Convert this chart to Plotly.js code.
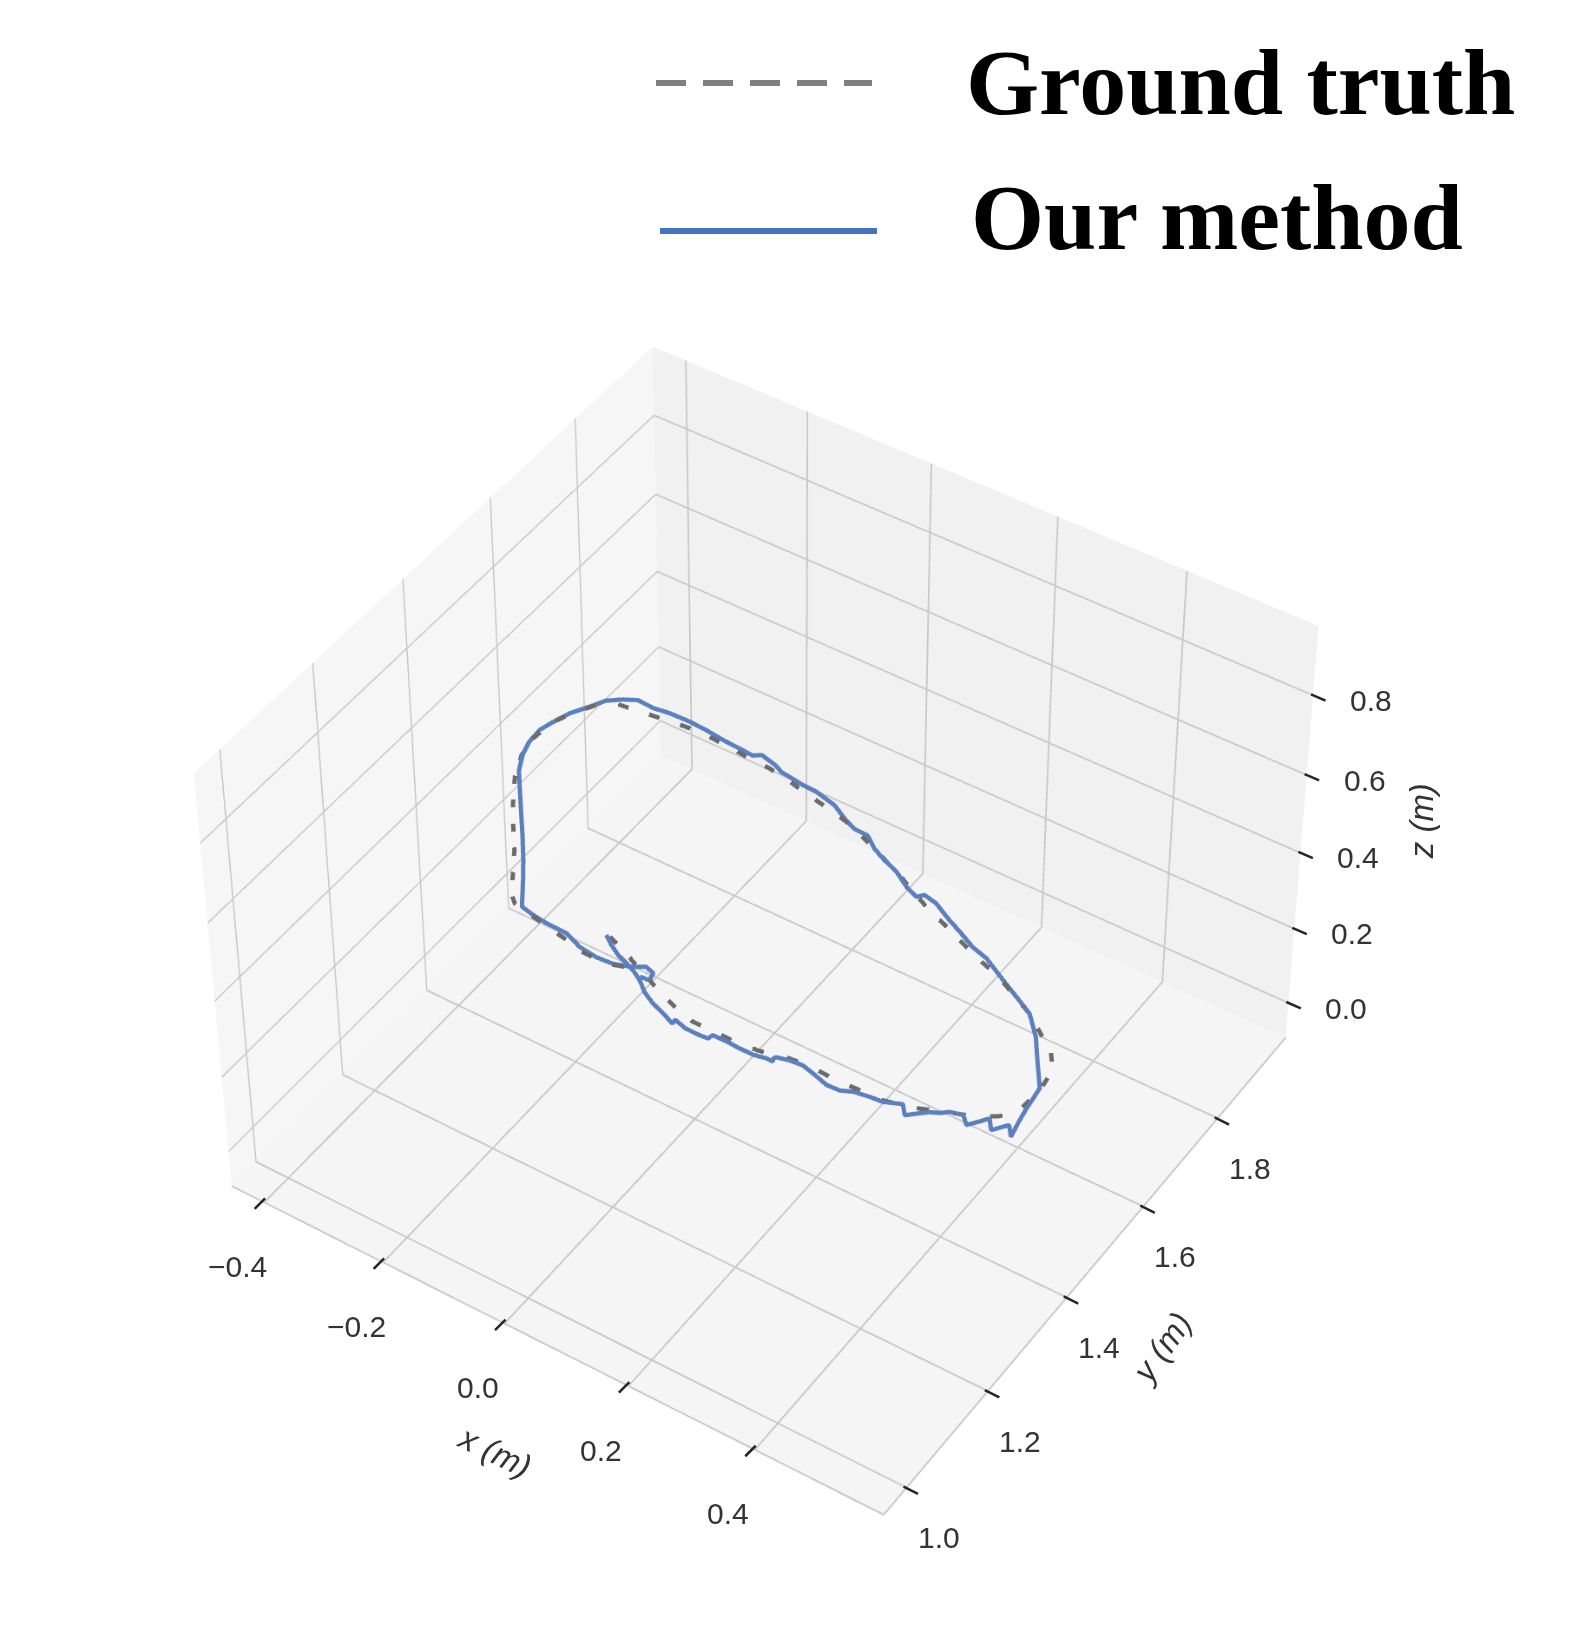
<!DOCTYPE html><html><head><meta charset="utf-8"><script src="https://cdn.plot.ly/plotly-3.0.1.min.js"></script></head><body style="margin:0;background:#fff">
<div style="position:fixed;left:0;top:0;width:1579px;height:1632px;overflow:hidden"><div id="g" style="position:absolute;left:-1711px;top:-1684px"></div></div>
<script>
const xRange=[-0.455,0.60], yRange=[0.945,1.988], zRange=[-0.095,0.97];
const xTicks=[-0.4,-0.2,0,0.2,0.4], xLabels=['−0.4','−0.2','0.0','0.2','0.4'];
const yTicks=[1,1.2,1.4,1.6,1.8], yLabels=['1.0','1.2','1.4','1.6','1.8'];
const zTicks=[0,0.2,0.4,0.6,0.8], zLabels=['0.0','0.2','0.4','0.6','0.8'];
const methodX=[-0.142,-0.125,-0.107,-0.088,-0.070,-0.055,-0.037,-0.015,0.007,0.028,0.027,0.048,0.070,0.083,0.085,0.107,0.128,0.150,0.168,0.179,0.176,0.178,0.196,0.216,0.235,0.262,0.282,0.298,0.321,0.341,0.365,0.378,0.389,0.402,0.414,0.424,0.442,0.455,0.466,0.474,0.487,0.502,0.515,0.510,0.505,0.500,0.474,0.446,0.416,0.391,0.365,0.340,0.312,0.285,0.254,0.227,0.198,0.176,0.169,0.147,0.119,0.093,0.069,0.047,0.025,0.002,-0.024,-0.060,-0.083,-0.102,-0.123,-0.137,-0.165,-0.175,-0.198,-0.228,-0.259,-0.288,-0.321,-0.347,-0.374,-0.393,-0.411,-0.423,-0.439,-0.448,-0.454,-0.452,-0.444,-0.430,-0.406,-0.377,-0.348,-0.320,-0.298,-0.269,-0.247,-0.223,-0.189,-0.159,-0.129,-0.103,-0.081,-0.062,-0.047,-0.044,-0.059];
const methodY=[1.401,1.389,1.378,1.371,1.363,1.354,1.339,1.327,1.319,1.310,1.318,1.312,1.312,1.313,1.322,1.322,1.321,1.321,1.325,1.325,1.330,1.334,1.339,1.341,1.336,1.328,1.329,1.337,1.341,1.343,1.354,1.338,1.349,1.361,1.367,1.376,1.381,1.368,1.383,1.395,1.378,1.399,1.382,1.407,1.437,1.479,1.516,1.557,1.590,1.604,1.618,1.632,1.648,1.656,1.672,1.685,1.701,1.706,1.697,1.706,1.724,1.734,1.746,1.763,1.764,1.774,1.789,1.798,1.799,1.802,1.805,1.812,1.819,1.811,1.813,1.815,1.819,1.821,1.820,1.816,1.818,1.807,1.792,1.769,1.741,1.713,1.689,1.661,1.634,1.605,1.573,1.535,1.497,1.459,1.427,1.383,1.378,1.375,1.374,1.362,1.358,1.360,1.368,1.380,1.375,1.361,1.360];
const methodZ=[0.29,0.29,0.29,0.29,0.29,0.29,0.29,0.29,0.29,0.29,0.29,0.29,0.29,0.29,0.29,0.29,0.29,0.29,0.29,0.29,0.29,0.29,0.29,0.29,0.29,0.29,0.29,0.29,0.29,0.29,0.29,0.29,0.29,0.29,0.29,0.29,0.29,0.29,0.29,0.29,0.29,0.29,0.29,0.29,0.29,0.29,0.29,0.29,0.29,0.29,0.29,0.29,0.29,0.29,0.29,0.29,0.29,0.29,0.29,0.29,0.29,0.29,0.29,0.29,0.29,0.29,0.29,0.29,0.29,0.29,0.29,0.29,0.29,0.29,0.29,0.29,0.29,0.29,0.29,0.29,0.29,0.29,0.29,0.29,0.29,0.29,0.29,0.29,0.29,0.29,0.29,0.29,0.29,0.29,0.29,0.29,0.29,0.29,0.29,0.29,0.29,0.29,0.29,0.29,0.29,0.29,0.29];
const truthX=[-0.136,-0.099,-0.082,-0.053,-0.020,0.016,0.049,0.081,0.116,0.149,0.172,0.194,0.229,0.268,0.298,0.339,0.387,0.416,0.460,0.483,0.499,0.502,0.497,0.477,0.448,0.416,0.340,0.302,0.267,0.230,0.194,0.119,0.047,0.011,-0.028,-0.066,-0.106,-0.141,-0.178,-0.218,-0.253,-0.286,-0.325,-0.356,-0.393,-0.417,-0.435,-0.448,-0.452,-0.445,-0.427,-0.398,-0.370,-0.342,-0.317,-0.296,-0.281,-0.258,-0.223,-0.185,-0.150,-0.111,-0.084,-0.055];
const truthY=[1.401,1.387,1.378,1.366,1.350,1.337,1.328,1.329,1.328,1.331,1.335,1.342,1.345,1.342,1.344,1.345,1.359,1.372,1.389,1.406,1.426,1.476,1.516,1.545,1.566,1.590,1.629,1.641,1.656,1.672,1.686,1.724,1.755,1.769,1.779,1.786,1.796,1.802,1.804,1.808,1.810,1.809,1.804,1.800,1.795,1.777,1.745,1.713,1.666,1.633,1.591,1.545,1.506,1.469,1.430,1.396,1.383,1.378,1.371,1.364,1.356,1.355,1.365,1.370];
const truthZ=[0.29,0.29,0.29,0.29,0.29,0.29,0.29,0.29,0.29,0.29,0.29,0.29,0.29,0.29,0.29,0.29,0.29,0.29,0.29,0.29,0.29,0.29,0.29,0.29,0.29,0.29,0.29,0.29,0.29,0.29,0.29,0.29,0.29,0.29,0.29,0.29,0.29,0.29,0.29,0.29,0.29,0.29,0.29,0.29,0.29,0.29,0.29,0.29,0.29,0.29,0.29,0.29,0.29,0.29,0.29,0.29,0.29,0.29,0.29,0.29,0.29,0.29,0.29,0.29];
const names=['Ground truth','Our method'];
const S=5000,OX=1711,OY=1684;
const px=v=>(v+OX)/S, py=v=>1-(v+OY)/S;
const tickFont={family:'Liberation Sans',size:30,color:'#333333'}, titleFont={family:'Liberation Sans',size:33,color:'#333333'};
const ann=[];
function addTicks(vals,labels,fn,lx,ly,ax,ay,sx,sy){vals.forEach((v,i)=>{const a=fn(v);
 ann.push({...a,text:labels[i],showarrow:false,xshift:lx,yshift:ly,font:tickFont});
 ann.push({...a,text:'',showarrow:true,ax:ax,ay:ay,xshift:sx,yshift:sy,arrowhead:0,arrowwidth:2.5,arrowcolor:'#262626',standoff:0});});}
addTicks(xTicks,xLabels,v=>({x:v,y:yRange[0],z:zRange[0]}),-27,-64,-12,12,1,4);
addTicks(yTicks,yLabels,v=>({x:xRange[1],y:v,z:zRange[0]}),32,-50,16,8,-3,1);
addTicks(zTicks,zLabels,v=>({x:xRange[1],y:yRange[1],z:v}),58,-5,16,7,-2,1);
ann.push({x:0,y:yRange[0],z:zRange[0],text:'<i>x (m)</i>',showarrow:false,xshift:-10,yshift:-128,textangle:26,font:titleFont});
ann.push({x:xRange[1],y:1.4,z:zRange[0],text:'<i>y (m)</i>',showarrow:false,xshift:95,yshift:-50,textangle:-55,font:titleFont});
ann.push({x:xRange[1],y:yRange[1],z:0.4,text:'<i>z (m)</i>',showarrow:false,xshift:121,yshift:32,textangle:-90,font:titleFont});
const ax=(range,ticks,bg,line)=>({range:range,tickvals:ticks,showticklabels:false,title:{text:''},ticks:'',showbackground:true,backgroundcolor:bg,gridcolor:'#c8c8c8',gridwidth:2,zeroline:false,showspikes:false,showline:line,linecolor:'#c8c8c8',linewidth:2});
const legendFont={family:'Liberation Serif',size:94,color:'#000000',weight:700};
Plotly.newPlot('g',[
 {type:'scatter3d',mode:'lines',name:names[0],x:truthX,y:truthY,z:truthZ,line:{color:'#6b6b6b',width:5,dash:'dash'},showlegend:false},
 {type:'scatter3d',mode:'lines',name:names[1],x:methodX,y:methodY,z:methodZ,line:{color:'#5b80bd',width:5},showlegend:false}
],{width:S,height:S,margin:{l:0,r:0,t:0,b:0},showlegend:false,paper_bgcolor:'rgba(0,0,0,0)',
 scene:{domain:{x:[0,1],y:[0,1]},aspectmode:'manual',aspectratio:{x:1,y:0.982,z:0.7262},
  camera:{eye:{x:3.0415,y:-4.5533,z:5.3221},center:{x:-0.0349,y:0.1093,z:0.0621},up:{x:0,y:0,z:1}},
  xaxis:ax(xRange,xTicks,'#f6f6f6',true),yaxis:ax(yRange,yTicks,'#f1f1f1',true),zaxis:ax(zRange,zTicks,'#f5f5f5',false),annotations:ann},
 annotations:[
  {xref:'paper',yref:'paper',x:px(964),y:py(82),xanchor:'left',yanchor:'middle',showarrow:false,text:names[0],font:legendFont},
  {xref:'paper',yref:'paper',x:px(969),y:py(217),xanchor:'left',yanchor:'middle',showarrow:false,text:names[1],font:legendFont}],
 shapes:[
  {type:'line',xref:'paper',yref:'paper',x0:px(656),x1:px(872),y0:py(83),y1:py(83),line:{color:'#808080',width:6,dash:'30px,17px'}},
  {type:'line',xref:'paper',yref:'paper',x0:px(660),x1:px(877),y0:py(231),y1:py(231),line:{color:'#4472c4',width:6}}]
},{displayModeBar:false});
</script></body></html>
